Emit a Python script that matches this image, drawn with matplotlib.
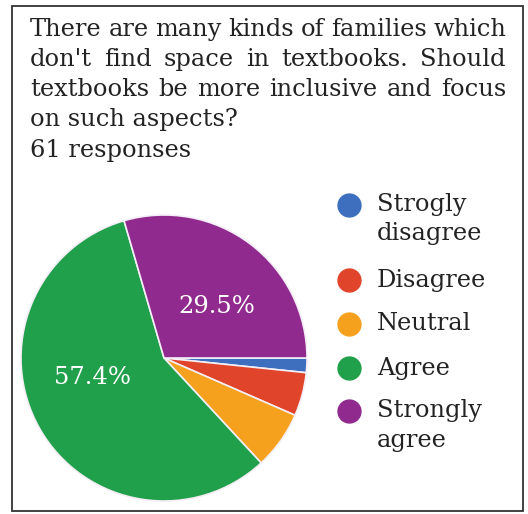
import matplotlib
matplotlib.use("Agg")
import matplotlib.pyplot as plt
from matplotlib.patches import Rectangle
import numpy as np

# Survey answers (61 responses)
categories = ["Strogly\ndisagree", "Disagree", "Neutral", "Agree", "Strongly\nagree"]
counts = [1, 3, 4, 35, 18]
colors = ["#3d6fbe", "#e0452b", "#f6a11e", "#21a04b", "#912a8f"]
title_lines = [
    "There are many kinds of families which",
    "don't find space in textbooks. Should",
    "textbooks be more inclusive and focus",
    "on such aspects?",
]
responses_text = "61 responses"

W, H = 528, 514
DPI = 100
fig = plt.figure(figsize=(W / DPI, H / DPI), dpi=DPI)
fig.patch.set_facecolor("white")

SERIF = ["DejaVu Serif"]
FS = 17.4
TXT = "#222222"


def px(x, y):
    """pixel position (top-left origin) -> figure fraction"""
    return x / W, 1 - y / H


# outer frame
fig.patches.append(Rectangle(px(12, 511), (523 - 12) / W, (511 - 6) / H,
                             transform=fig.transFigure, fill=False,
                             edgecolor="#333333", linewidth=1.3))

# question text, justified lines
renderer = fig.canvas.get_renderer()
left, right = 30, 506
baselines = [36, 66, 96, 126]
for i, line in enumerate(title_lines):
    yb = baselines[i]
    words = line.split(" ")
    justify = i < 3
    if not justify:
        fig.text(*px(left, yb), line, family=SERIF, fontsize=FS,
                 va="baseline", ha="left", color=TXT)
        continue
    texts = [fig.text(0, 0, w, family=SERIF, fontsize=FS, va="baseline",
                      ha="left", color=TXT) for w in words]
    widths = [t.get_window_extent(renderer).width for t in texts]
    gap = (right - left - sum(widths)) / (len(words) - 1)
    x = left
    for t, w in zip(texts, widths):
        t.set_position(px(x, yb))
        x += w + gap

fig.text(*px(left, 157), responses_text, family=SERIF, fontsize=FS,
         va="baseline", ha="left", color=TXT)

# pie
cx, cy, r = 164, 358, 143
ax = fig.add_axes([(cx - r) / W, 1 - (cy + r) / H, 2 * r / W, 2 * r / H])
total = sum(counts)
wedges, _ = ax.pie(counts, colors=colors, startangle=0, counterclock=False,
                   radius=1.0,
                   wedgeprops=dict(edgecolor="#f4eef6", linewidth=1.2))
ax.set_xlim(-1, 1)
ax.set_ylim(-1, 1)
ax.set_aspect("auto")
ax.axis("off")

# percentage labels on the large slices
label_spots = {3: (0.52, 195.0), 4: (0.515, 44.0)}
for idx, (rr, ang) in label_spots.items():
    pct = 100 * counts[idx] / total
    a = np.deg2rad(ang)
    ax.text(rr * np.cos(a), rr * np.sin(a), f"{pct:.1f}%", color="white",
            family=SERIF, fontsize=17.5, ha="center", va="center")

# legend
leg_x_dot, leg_x_txt = 349, 377
leg_y = [205, 280, 324, 368, 411]
line_gap = 29
for cat, col, yy in zip(categories, colors, leg_y):
    fig.add_artist(plt.Line2D([leg_x_dot / W], [1 - yy / H], marker="o",
                              markersize=16.5, color=col, linestyle="none",
                              transform=fig.transFigure))
    for k, part in enumerate(cat.split("\n")):
        fig.text(*px(leg_x_txt, yy + k * line_gap), part, family=SERIF,
                 fontsize=FS, va="center", ha="left", color=TXT)

fig.savefig("out.png", dpi=DPI, facecolor="white")
